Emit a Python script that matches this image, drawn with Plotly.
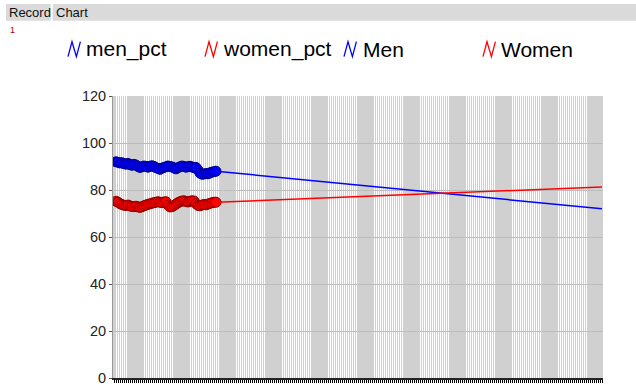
import plotly.graph_objects as go

# ---- data ----
men_pct = [92.0, 91.8, 91.5, 91.6, 91.2, 91.0, 91.3, 90.8, 90.5, 90.9, 90.6, 90.0, 89.6,
           89.9, 90.2, 90.0, 89.7, 90.1, 90.3, 90.0, 89.5, 89.2, 88.8, 89.3, 89.6, 89.9,
           90.2, 90.0, 89.8, 89.4, 89.0, 89.5, 89.9, 90.2, 90.0, 89.7, 89.9, 90.1, 89.8,
           89.5, 89.6, 88.5, 87.2, 86.7, 86.8, 87.0, 86.9, 87.3, 87.6, 87.8, 88.0]
women_pct = [75.2, 74.8, 74.2, 73.8, 73.5, 73.4, 73.6, 73.2, 73.0, 72.9, 73.1, 72.8, 72.6,
             72.9, 73.3, 73.6, 73.9, 74.1, 74.4, 74.6, 74.8, 75.0, 74.8, 74.6, 74.9, 75.0,
             73.6, 72.8, 72.9, 73.4, 74.0, 74.6, 75.0, 75.3, 75.4, 75.1, 74.9, 75.2, 75.4,
             75.3, 74.2, 73.4, 73.3, 73.6, 73.8, 73.7, 74.0, 74.3, 74.6, 74.8, 74.8]
record_x = list(range(1, 1 + len(men_pct)))

trend_x = [51, 244]
men_trend = [88.0, 72.0]
women_trend = [74.8, 81.3]

n_slots = 245
y_ticks = [0, 20, 40, 60, 80, 100, 120]
legend_names = ["men_pct", "women_pct", "Men", "Women"]
legend_colors = ["#0000ff", "#ff0000", "#0000ff", "#ff0000"]

# ---- layout helpers (pixel -> paper) ----
L, R, T, B = 113, 603, 96, 378
W, H = 636, 389
def px(x):
    return (x - L) / (R - L)
def py(y):
    return (B - y) / (B - T)

fig = go.Figure()
fig.add_trace(go.Scatter(x=record_x, y=men_pct, mode="lines+markers", name="men_pct",
                         line=dict(color="#0000ff", width=1.5),
                         marker=dict(size=10, color="#0000ff", line=dict(color="#00008a", width=1)),
                         showlegend=False))
fig.add_trace(go.Scatter(x=record_x, y=women_pct, mode="lines+markers", name="women_pct",
                         line=dict(color="#ff0000", width=1.5),
                         marker=dict(size=10, color="#ff0000", line=dict(color="#8a0000", width=1)),
                         showlegend=False))
fig.add_trace(go.Scatter(x=trend_x, y=men_trend, mode="lines", name="Men",
                         line=dict(color="#0000ff", width=1.5), showlegend=False))
fig.add_trace(go.Scatter(x=trend_x, y=women_trend, mode="lines", name="Women",
                         line=dict(color="#ff0000", width=1.5), showlegend=False))

grid_vals = [i for i in range(n_slots) if (i + 8) % 23 < 15]

fig.update_xaxes(range=[-0.5, n_slots - 0.5], tickvals=grid_vals, showticklabels=False,
                 showgrid=True, gridcolor="#ffffff", gridwidth=1,
                 ticks="outside", ticklen=3, tickcolor="#000000",
                 minor=dict(dtick=1, tick0=0, ticks="outside", ticklen=3, tickcolor="#000000",
                            showgrid=False),
                 showline=True, linecolor="#222222", linewidth=2, zeroline=False,
                 fixedrange=True, automargin=False)
fig.update_yaxes(range=[0, 120], tickvals=y_ticks, ticktext=[str(v) for v in y_ticks],
                 showgrid=True, gridcolor="#bdbdbd", gridwidth=1,
                 ticks="outside", ticklen=3, tickcolor="#555555",
                 showline=True, linecolor="#999999", linewidth=1, zeroline=False,
                 automargin=False,
                 tickfont=dict(family="Liberation Sans, Arial", size=14.5, color="#222222"))

shapes = [
    dict(type="rect", xref="paper", yref="paper", x0=px(6), x1=px(50.7), y0=py(4), y1=py(20.7),
         fillcolor="#dadada", line=dict(width=0), layer="below"),
    dict(type="rect", xref="paper", yref="paper", x0=px(52.7), x1=px(636), y0=py(4), y1=py(20.7),
         fillcolor="#dadada", line=dict(width=0), layer="below"),
]
annotations = [
    dict(text="Record", xref="paper", yref="paper", x=px(7), y=py(12.5), xanchor="left",
         yanchor="middle", showarrow=False, font=dict(family="Liberation Sans, Arial", size=13, color="#111111")),
    dict(text="Chart", xref="paper", yref="paper", x=px(54), y=py(12.5), xanchor="left",
         yanchor="middle", showarrow=False, font=dict(family="Liberation Sans, Arial", size=13, color="#111111")),
    dict(text="1", xref="paper", yref="paper", x=px(8), y=py(30), xanchor="left",
         yanchor="middle", showarrow=False, font=dict(family="Liberation Sans, Arial", size=9, color="#b00000")),
]

icon_x = [68, 205, 344, 483]
text_x = [84, 221, 360.5, 499]
for name, col, ix, tx in zip(legend_names, legend_colors, icon_x, text_x):
    path = "M {} {} L {} {} L {} {} L {} {}".format(
        px(ix), py(56.7), px(ix + 4), py(41.7), px(ix + 8.4), py(56.7), px(ix + 12.4), py(41.7))
    shapes.append(dict(type="path", xref="paper", yref="paper", path=path,
                       line=dict(color=col, width=1.3)))
    annotations.append(dict(text=name, xref="paper", yref="paper", x=px(tx), y=py(49.5),
                            xanchor="left", yanchor="middle", showarrow=False,
                            font=dict(family="Liberation Sans, Arial", size=21, color="#000000")))

fig.update_layout(width=W, height=H, margin=dict(l=L, r=W - R, t=T, b=H - B),
                  paper_bgcolor="#ffffff", plot_bgcolor="#d0d0d0",
                  shapes=shapes, annotations=annotations, showlegend=False)

fig.write_html("out.html", config={"displayModeBar": False},
               post_script="document.body.style.margin='0';document.body.style.overflow='hidden';")
